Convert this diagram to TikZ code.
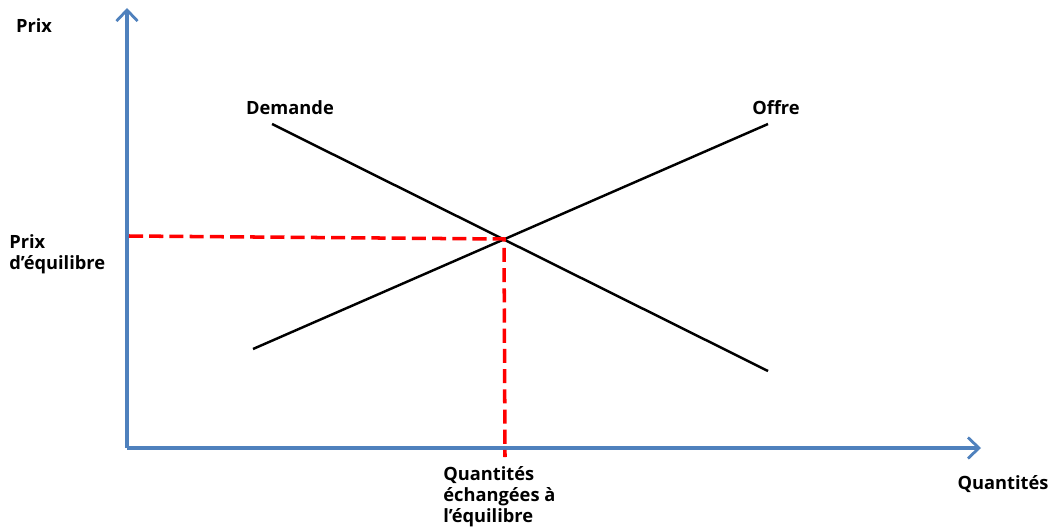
\documentclass[tikz,border=0pt]{standalone}
\usepackage{fontspec}
\setmainfont{Open Sans}
\usetikzlibrary{arrows.meta,positioning}
\definecolor{axisblue}{RGB}{79,129,189}
\tikzset{
    axisline/.style={draw=axisblue, line width=2.2pt,
        -{Straight Barb[length=2.2mm, width=4.2mm, line width=1.6pt]}},
    curveline/.style={draw=black, line width=1.4pt},
    eqline/.style={draw=red, line width=2pt, dash pattern=on 8pt off 3.5pt},
    axislabel/.style={font=\bfseries\fontsize{10.4}{12}\selectfont, align=left, inner sep=0pt}
}

\begin{document}
\begin{tikzpicture}[x=0.02cm, y=-0.02cm]
\useasboundingbox (0,0) rectangle (1054,527);
% axes
\coordinate (origin) at (127,448);
\coordinate (ytip) at (127,8);
\coordinate (xtip) at (981,448);
\draw[axisline] (origin) -- (ytip);
\draw[axisline] (origin) -- (xtip);
% curves
\coordinate (demA) at (272,124);
\coordinate (demB) at (768,371);
\coordinate (offA) at (253,349);
\coordinate (offB) at (768,124);
\draw[curveline] (demA) -- (demB);
\draw[curveline] (offA) -- (offB);
% equilibrium
\coordinate (eq) at (504,239);
\coordinate (eqy) at (129,236);
\coordinate (eqx) at (505,457);
\draw[eqline] (eqy) -- (eq) -- (eqx);
% labels
\node[axislabel] (prix) at (34,26) {Prix};
\node[axislabel] (quant) at (1003,484) {Quantités};
\node[axislabel] (demande) at (290,108) {Demande};
\node[axislabel] (offre) at (776,108) {Offre};
\node[axislabel, anchor=west] (prixeq) at (9,254) {Prix\\d’équilibre};
\node[axislabel, anchor=west] (quanteq) at (443,497) {Quantités\\échangées à\\l’équilibre};
\end{tikzpicture}
\end{document}
